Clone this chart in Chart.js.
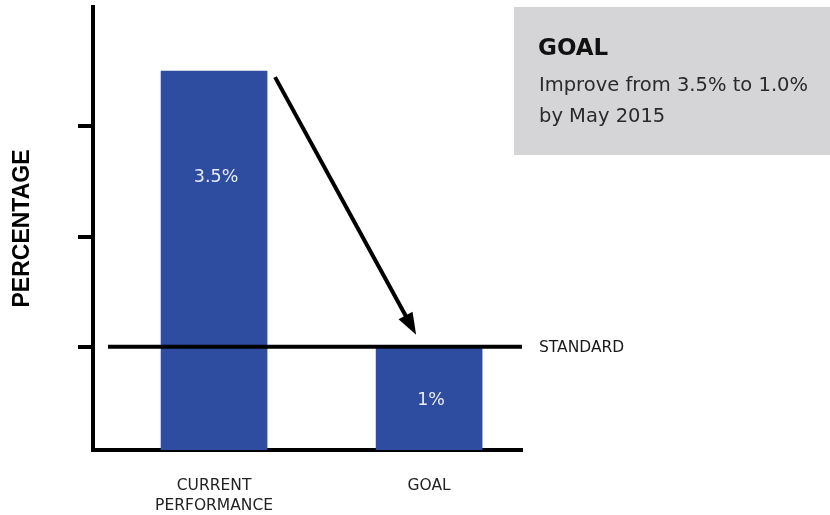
<!DOCTYPE html>
<html>
<head>
<meta charset="utf-8">
<script src="https://cdn.jsdelivr.net/npm/chart.js@4.4.0/dist/chart.umd.min.js"></script>
<style>
    html, body { margin: 0; padding: 0; background: #ffffff; }
    #wrap { width: 830px; height: 515px; }
</style>
</head>
<body>
<div id="wrap"><canvas id="chart"></canvas></div>
<script>
const categories = [["CURRENT", "PERFORMANCE"], ["GOAL"]];
const values = [3.5, 1];
const valueLabels = ["3.5%", "1%"];
const yTicks = [1, 2, 3];
const standard = 1;
const standardLabel = "STANDARD";
const goalTitle = "GOAL";
const goalLines = ["Improve from 3.5% to 1.0%", "by May 2015"];

const FONT = "'DejaVu Sans', sans-serif";

// bar labels, standard line, arrow and the goal box
const overlay = {
    id: "overlay",
    afterDatasetsDraw(chart) {
        const ctx = chart.ctx;
        const area = chart.chartArea;
        const y = chart.scales.y;
        const bars = chart.getDatasetMeta(0).data;

        ctx.save();

        // value labels inside the bars
        ctx.fillStyle = "#e8ecf6";
        ctx.font = "17.5px " + FONT;
        ctx.textAlign = "center";
        ctx.textBaseline = "middle";
        bars.forEach((bar, i) => {
            const h = bar.base - bar.y;
            ctx.fillText(valueLabels[i], bar.x + 2, bar.y + Math.min(106, h / 2 - 1));
        });

        // standard line
        const sy = y.getPixelForValue(standard);
        ctx.strokeStyle = "#000000";
        ctx.lineWidth = 4;
        ctx.beginPath();
        ctx.moveTo(area.left + 15, sy);
        ctx.lineTo(area.right, sy);
        ctx.stroke();

        ctx.fillStyle = "#1a1a1a";
        ctx.font = "15.5px " + FONT;
        ctx.textAlign = "left";
        ctx.fillText(standardLabel, area.right + 17, sy + 1);

        // arrow from current bar down to goal bar
        const b0 = bars[0], b1 = bars[1];
        const x0 = b0.x + b0.width / 2 + 8, y0 = b0.y + 6;
        const x1 = b1.x - 13, y1 = b1.y - 12;
        const ang = Math.atan2(y1 - y0, x1 - x0);
        const head = 22;
        ctx.lineWidth = 4;
        ctx.lineCap = "butt";
        ctx.beginPath();
        ctx.moveTo(x0, y0);
        ctx.lineTo(x1 - Math.cos(ang) * (head - 4), y1 - Math.sin(ang) * (head - 4));
        ctx.stroke();
        ctx.fillStyle = "#000000";
        ctx.beginPath();
        ctx.moveTo(x1, y1);
        ctx.lineTo(x1 - head * Math.cos(ang) + 8 * Math.sin(ang), y1 - head * Math.sin(ang) - 8 * Math.cos(ang));
        ctx.lineTo(x1 - head * Math.cos(ang) - 8 * Math.sin(ang), y1 - head * Math.sin(ang) + 8 * Math.cos(ang));
        ctx.closePath();
        ctx.fill();

        // goal box
        ctx.fillStyle = "#d5d5d7";
        ctx.fillRect(514, 7, 316, 148);
        ctx.fillStyle = "#111111";
        ctx.font = "bold 23px " + FONT;
        ctx.textBaseline = "alphabetic";
        ctx.fillText(goalTitle, 538, 55);
        ctx.fillStyle = "#2a2a2a";
        ctx.font = "19.5px " + FONT;
        goalLines.forEach((line, i) => {
            ctx.fillText(line, 539, 91 + i * 31);
        });

        ctx.restore();
    }
};

new Chart(document.getElementById("chart"), {
    type: "bar",

    data: {
        datasets: [
            {
                data: values.map((v, i) => ({ x: i, y: v })),
                backgroundColor: "#2e4da0",
                barThickness: 106,
                borderWidth: 0
            }
        ]
    },

    options: {
        responsive: true,
        maintainAspectRatio: false,
        animation: false,

        layout: {
            padding: { top: 7, right: 308, left: 0, bottom: 0 }
        },

        plugins: {
            legend: { display: false },
            tooltip: { enabled: false }
        },

        scales: {
            x: {
                type: "linear",
                offset: false,
                min: -0.563,
                max: 1.432,
                afterBuildTicks: (scale) => {
                    scale.ticks = categories.map((c, i) => ({ value: i }));
                },
                afterFit: (scale) => {
                    scale.height = 65;
                },
                grid: { display: false, drawTicks: false, offset: false },
                border: { display: true, color: "#000000", width: 4 },
                ticks: {
                    padding: 26,
                    color: "#222222",
                    font: { family: FONT, size: 15.5, lineHeight: 1.3 },
                    maxRotation: 0,
                    callback: (v) => categories[v]
                }
            },

            y: {
                min: 0.0636,
                max: 4.082,
                afterBuildTicks: (scale) => {
                    scale.ticks = yTicks.map((v) => ({ value: v }));
                },
                afterFit: (scale) => {
                    scale.width = 93;
                },
                grid: {
                    drawOnChartArea: false,
                    drawTicks: true,
                    tickLength: 15,
                    color: "#000000",
                    lineWidth: 4
                },
                border: { display: true, color: "#000000", width: 4 },
                ticks: { display: false },
                title: {
                    display: true,
                    text: "PERCENTAGE",
                    color: "#000000",
                    font: { family: "'Liberation Sans', sans-serif", size: 23, weight: "bold", lineHeight: 1.2 },
                    padding: { top: 9, bottom: 0 }
                }
            }
        }
    },

    plugins: [overlay]
});
</script>
</body>
</html>
